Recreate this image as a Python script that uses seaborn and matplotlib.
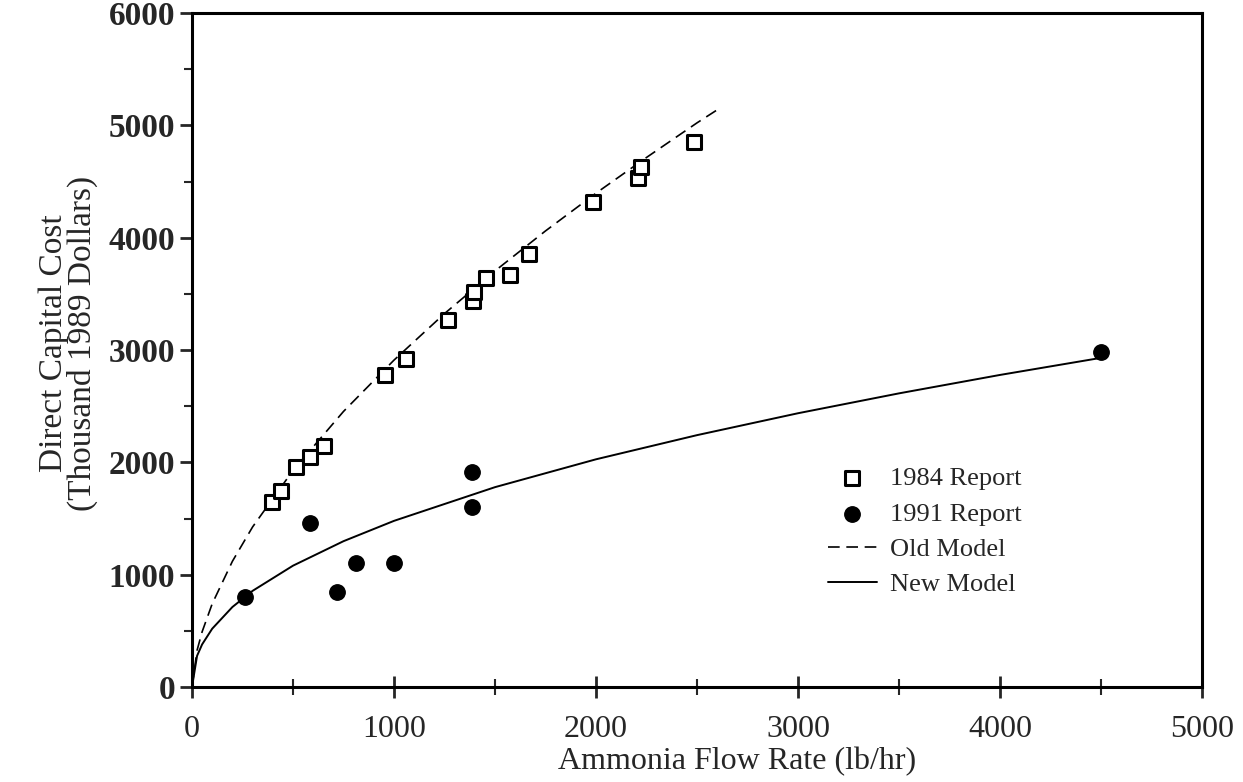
#!/usr/bin/env python3
import numpy as np
import pandas as pd
import matplotlib
matplotlib.use("Agg")
import matplotlib.pyplot as plt
import seaborn as sns

# 1984 report (open squares)
flow_1984 = [394, 439, 515, 584, 655, 955, 1060, 1265, 1390, 1395,
             1455, 1574, 1668, 1984, 2210, 2223, 2487]
cost_1984 = [1650, 1748, 1961, 2050, 2148, 2780, 2920, 3270, 3440, 3520,
             3644, 3668, 3855, 4320, 4534, 4632, 4855]

# 1991 report (filled circles)
flow_1991 = [262, 584, 719, 812, 998, 1386, 1386, 4500]
cost_1991 = [804, 1457, 848, 1107, 1107, 1917, 1600, 2980]

# model curves
old_x = [0, 25, 50, 100, 200, 300, 500, 750, 1000, 1250, 1500, 1750,
         2000, 2250, 2500, 2620]
old_y = [0, 326, 491, 741, 1119, 1425, 1928, 2453, 2910, 3324, 3704, 4060,
         4396, 4714, 5022, 5161]
new_x = [0, 25, 50, 100, 200, 300, 500, 750, 1000, 1500, 2000, 2500,
         3000, 3500, 4000, 4500]
new_y = [0, 277, 379, 519, 712, 856, 1080, 1298, 1479, 1779, 2027, 2242,
         2437, 2614, 2778, 2930]

sns.set_theme(style="ticks")
plt.rcParams['font.family'] = ['Liberation Serif', 'DejaVu Serif']

fig = plt.figure(figsize=(12.43, 7.82), dpi=100)
ax = fig.add_axes([192 / 1243, 1 - 687 / 782, 1010 / 1243, 674 / 782])

sns.lineplot(x=old_x, y=old_y, ax=ax, color='black', lw=1.2,
             linestyle=(0, (7, 4)), label='Old Model', legend=False)
sns.lineplot(x=new_x, y=new_y, ax=ax, color='black', lw=1.4,
             label='New Model', legend=False)
sns.scatterplot(x=flow_1984, y=cost_1984, ax=ax, marker='s', s=110,
                facecolor='white', edgecolor='black', linewidth=2.2,
                label='1984 Report', legend=False, zorder=3)
sns.scatterplot(x=flow_1991, y=cost_1991, ax=ax, marker='o', s=125,
                color='black', edgecolor='black',
                label='1991 Report', legend=False, zorder=3)

ax.set_xlim(0, 5000)
ax.set_ylim(0, 6000)
ax.set_xticks(np.arange(0, 5001, 1000))
ax.set_yticks(np.arange(0, 6001, 1000))
ax.set_xticks(np.arange(0, 5001, 500), minor=True)
ax.set_yticks(np.arange(0, 6001, 500), minor=True)
ax.tick_params(axis='x', which='major', direction='inout', length=16,
               width=2, labelsize=23, pad=12.5)
ax.tick_params(axis='x', which='minor', direction='inout', length=12,
               width=1.5)
ax.tick_params(axis='y', which='major', direction='out', length=9,
               width=2, labelsize=24, pad=3)
ax.tick_params(axis='y', which='minor', direction='out', length=6,
               width=1.5)
for lab in ax.get_yticklabels():
    lab.set_fontweight('bold')

for spine in ax.spines.values():
    spine.set_visible(True)
    spine.set_color('black')
    spine.set_linewidth(2.2)

ax.set_xlabel('Ammonia Flow Rate (lb/hr)', fontsize=23)
ax.xaxis.set_label_coords(0.54, -0.111, transform=ax.transAxes)
ax.xaxis.label.set_va('center')
ax.set_ylabel('Direct Capital Cost\n(Thousand 1989 Dollars)', fontsize=24,
              linespacing=0.9)
ax.yaxis.set_label_coords(-0.093, 0.51)

handles, labels = ax.get_legend_handles_labels()
order = ['1984 Report', '1991 Report', 'Old Model', 'New Model']
hmap = dict(zip(labels, handles))
ax.legend([hmap[k] for k in order], order, loc='upper left',
          bbox_to_anchor=(612 / 1010, (687 - 443) / 674), frameon=False,
          fontsize=19, handlelength=1.85, handletextpad=0.5,
          labelspacing=0.45)

fig.savefig('out.png', dpi=100)
